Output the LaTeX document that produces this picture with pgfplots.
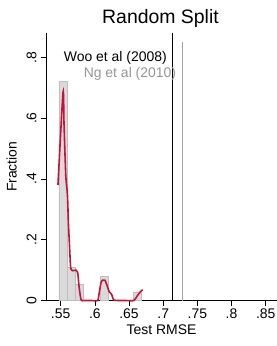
\documentclass[border=0pt]{standalone}
\usepackage{pgfplots}
\pgfplotsset{compat=1.18}
\usepackage{fontspec}
\setmainfont{Liberation Sans}
\definecolor{cranb}{RGB}{200,16,58}
\definecolor{barfill}{RGB}{218,218,218}
\definecolor{baredge}{RGB}{190,190,190}
\definecolor{gline}{RGB}{165,165,165}
\definecolor{gtext}{RGB}{150,150,150}
\begin{document}
\begin{tikzpicture}[x=1bp,y=1bp]
\path[use as bounding box] (-46bp,-45.5bp) rectangle (231bp,300.5bp);
\begin{axis}[
  at={(0,0)}, anchor=south west,
  scale only axis, width=231bp, height=267.5bp,
  xmin=0.5285, xmax=0.8665, ymin=0, ymax=0.88,
  axis x line*=bottom, axis y line*=left,
  axis line style={black, line width=0.6pt},
  tick align=outside, major tick length=5bp,
  tick style={black, line width=0.6pt},
  xtick={0.55,0.6,0.65,0.7,0.75,0.8,0.85},
  xticklabels={.55,.6,.65,.7,.75,.8,.85},
  ytick={0,0.2,0.4,0.6,0.8},
  yticklabels={0,.2,.4,.6,.8},
  yticklabel style={rotate=90, anchor=south, yshift=1bp},
  ticklabel style={font=\fontsize{14}{14}\selectfont},
  /pgf/number format/assume math mode=true,
  xlabel={Test RMSE}, ylabel={Fraction},
  label style={font=\fontsize{14}{14}\selectfont},
  xlabel style={yshift=1bp},
  ylabel style={yshift=3bp},
  title={Random Split},
  title style={font=\fontsize{19.5}{20}\selectfont, yshift=-4bp, xshift=-1bp},
  clip=false,
]
% histogram
\addplot[ybar interval, fill=barfill, draw=baredge, line width=0.6pt]
  coordinates {(0.5475,0.72) (0.5596,0.108) (0.5717,0.054) (0.5838,0)};
\addplot[ybar interval, fill=barfill, draw=baredge, line width=0.6pt]
  coordinates {(0.6080,0.08) (0.6201,0)};
\addplot[ybar interval, fill=barfill, draw=baredge, line width=0.6pt]
  coordinates {(0.6564,0.027) (0.6685,0)};
% reference lines
\addplot[black, line width=1pt] coordinates {(0.7143,0) (0.7143,0.88)};
\addplot[gline, line width=1pt] coordinates {(0.7279,0) (0.7279,0.849)};
\node[anchor=east, font=\fontsize{14}{14}\selectfont, inner sep=0pt] at (axis cs:0.7055,0.798) {Woo et al (2008)};
\node[anchor=east, font=\fontsize{14}{14}\selectfont, text=gtext, inner sep=0pt] at (axis cs:0.7191,0.746) {Ng et al (2010)};
% density
\addplot[cranb, line width=1.6pt, smooth, tension=0.4] coordinates {
(0.5460,0.380) (0.5534,0.685) (0.5549,0.578) (0.5574,0.413) (0.5599,0.347)
(0.5613,0.255) (0.5632,0.166) (0.5647,0.106) (0.5681,0.098) (0.5721,0.100)
(0.5750,0.090) (0.5769,0.045) (0.5799,0.002) (0.5850,0) (0.5950,0) (0.6040,0)
(0.6063,0.024) (0.6088,0.057) (0.6113,0.067) (0.6147,0.067) (0.6176,0.051)
(0.6210,0.029) (0.6246,0.020) (0.6275,0.002) (0.6350,0) (0.6450,0) (0.6569,0)
(0.6628,0.018) (0.6676,0.031) (0.6701,0.035)};
\end{axis}
\end{tikzpicture}
\end{document}
